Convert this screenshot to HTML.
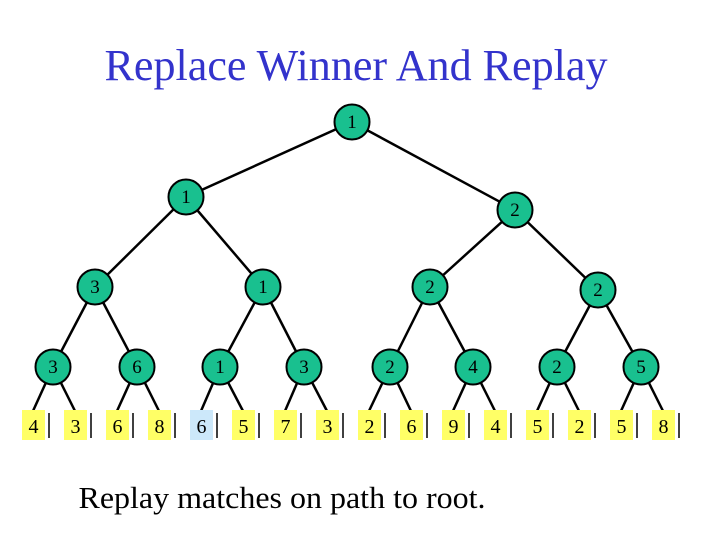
<!DOCTYPE html>
<html><head><style>
html,body{margin:0;padding:0;background:#fff;}
svg{display:block}
text{font-family:"Liberation Serif",serif;}
</style></head><body>
<svg width="720" height="540" viewBox="0 0 720 540">
<text x="356" y="80" font-size="44" fill="#3333cc" text-anchor="middle" textLength="503" lengthAdjust="spacingAndGlyphs">Replace Winner And Replay</text>
<g stroke="#000" stroke-width="2.5" fill="none">
<line x1="352" y1="122" x2="186" y2="197"/>
<line x1="352" y1="122" x2="515" y2="210"/>
<line x1="186" y1="197" x2="95" y2="287"/>
<line x1="186" y1="197" x2="263" y2="287"/>
<line x1="515" y1="210" x2="430" y2="287"/>
<line x1="515" y1="210" x2="598" y2="290"/>
<line x1="95" y1="287" x2="53" y2="367"/>
<line x1="95" y1="287" x2="137" y2="367"/>
<line x1="263" y1="287" x2="220" y2="367"/>
<line x1="263" y1="287" x2="304" y2="367"/>
<line x1="430" y1="287" x2="390" y2="367"/>
<line x1="430" y1="287" x2="473" y2="367"/>
<line x1="598" y1="290" x2="557" y2="367"/>
<line x1="598" y1="290" x2="641" y2="367"/>
</g>
<g id="leaflines" stroke="#000" stroke-width="2.5"></g>
<g id="nodes"></g>
<text x="282" y="508" font-size="31" text-anchor="middle" fill="#000" textLength="407" lengthAdjust="spacingAndGlyphs">Replay matches on path to root.</text>
</svg>
<script>
var ns="http://www.w3.org/2000/svg";
function el(t,a,p,txt){var e=document.createElementNS(ns,t);for(var k in a)e.setAttribute(k,a[k]);if(txt!=null)e.textContent=txt;p.appendChild(e);return e;}
var N=document.getElementById("nodes"),L=document.getElementById("leaflines");
var nodes=[[352,122,"1"],[186,197,"1"],[515,210,"2"],[95,287,"3"],[263,287,"1"],[430,287,"2"],[598,290,"2"],
[53,367,"3"],[137,367,"6"],[220,367,"1"],[304,367,"3"],[390,367,"2"],[473,367,"4"],[557,367,"2"],[641,367,"5"]];
var leaves=["4","3","6","8","6","5","7","3","2","6","9","4","5","2","5","8"];
for(var i=0;i<16;i++){var x=22+42*i,p=nodes[7+(i>>1)];
el("line",{x1:p[0],y1:p[1],x2:x+11,y2:411},L);
el("rect",{x:x,y:410,width:23,height:30,fill:i==4?"#cce8fa":"#ffff66"},N);
el("line",{x1:x+27,y1:413,x2:x+27,y2:438,stroke:"#000","stroke-width":1.5},N);
el("text",{x:x+11.5,y:433,"font-size":20,"text-anchor":"middle"},N,leaves[i]);}
nodes.forEach(function(n){el("circle",{cx:n[0],cy:n[1],r:17.5,fill:"#19c08f",stroke:"#000","stroke-width":2},N);
el("text",{x:n[0],y:n[1]+6,"font-size":19,"text-anchor":"middle"},N,n[2]);});
</script>
</body></html>
